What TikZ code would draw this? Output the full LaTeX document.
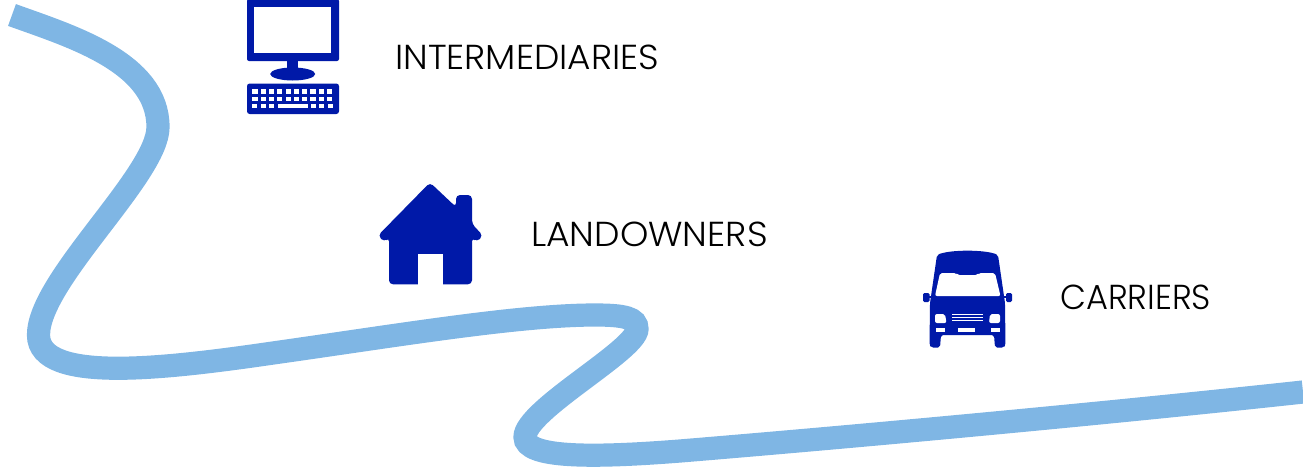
\documentclass[tikz,border=0pt]{standalone}
\usepackage{fontspec}
\setmainfont{Poppins Light}
\definecolor{river}{HTML}{7FB6E4}
\definecolor{icon}{HTML}{0019A8}
\tikzset{
  riverline/.style={draw=river,line width=17.4pt},
  iconfill/.style={fill=icon,draw=none},
  hole/.style={fill=white,draw=none},
  label/.style={anchor=west,inner sep=0pt,text=black,font=\fontsize{26}{28}\selectfont}
}
\begin{document}
\begin{tikzpicture}[x=0.75pt,y=-0.75pt]
\useasboundingbox (0,0) rectangle (1303,468);
\draw[riverline] (12,15) .. controls (70,36) and (158,62) .. (158,127)
  .. controls (158,175) and (38.5,280) .. (38.5,335)
  .. controls (38.5,385) and (170,368) .. (280,352)
  .. controls (400,335) and (520,315) .. (595,315)
  .. controls (625,315) and (637,318) .. (637,329)
  .. controls (637,350) and (525,410) .. (525,437)
  .. controls (525,458) and (590,458) .. (680,451)
  .. controls (850,437) and (1100,414) .. (1303,392);
% computer
\fill[iconfill,rounded corners=1.5] (247,-1) rectangle (339,61);
\fill[hole] (254.3,6.7) rectangle (331,53);
\fill[iconfill] (287,60) rectangle (298,70);
\fill[iconfill] (292.7,74) ellipse (22.5 and 6.5);
\fill[iconfill,rounded corners=2] (247,83.5) rectangle (339,114);
\foreach \x in {252.3,260.6,268.9,277.2,285.5,293.8,302.1,310.4,318.7,327}{
  \fill[hole] (\x,89.3) rectangle +(5.2,5);
  \fill[hole] (\x,96.7) rectangle +(5.2,4.6);
}
\foreach \x in {252.3,260.6,268.9,311,319.3,327.6}{
  \fill[hole] (\x,104) rectangle +(5,4.4);
}
\fill[hole] (277.7,104) rectangle (307.7,108.4);
% house
\fill[iconfill,rounded corners=3] (378,235.5) -- (384,242) -- (389,237.5) -- (389,284.3) -- (472,284.3) -- (472,237.5) -- (477,242) -- (483,235.5) -- (472,224) -- (472,195) -- (456,195) -- (456,207) -- (430,182.5) -- cycle;
\fill[hole] (418,254) rectangle (443,285);
% van
\path[iconfill,rounded corners=1.5] (937,255) .. controls (950,249.5) and (985,249.5) .. (998,255)
  -- (1005,303) -- (1005.5,345) -- (1004,347.5) -- (995,347.5) -- (994,335) -- (941,335) -- (940,347.5) -- (931,347.5) -- (929.5,345) -- (930,303) -- cycle;
\fill[hole,rounded corners=1.5] (940,273) -- (956,273) -- (958,275.2) -- (977,275.2) -- (979,273) -- (995,273) -- (1000.5,296) -- (935,296) -- cycle;
\fill[iconfill,rounded corners=1] (923,293) rectangle (929.5,302);
\fill[iconfill,rounded corners=1] (1006,293) rectangle (1012,302);
\fill[iconfill] (928,296) rectangle (932,298);
\fill[iconfill] (1004,296) rectangle (1007,298);
\fill[hole,rounded corners=1.5] (935,314) -- (945,314) -- (946.5,323) -- (935,323) -- cycle;
\fill[hole,rounded corners=1.5] (990,314) -- (1000,314) -- (1000,323) -- (989,323) -- cycle;
\fill[hole] (952,314) rectangle (983,315.4);
\fill[hole] (952,317) rectangle (983,318.4);
\fill[hole] (952,320) rectangle (983,321.4);
\fill[hole] (936,328) rectangle (944.5,332);
\fill[hole] (958,328) rectangle (975,332);
\fill[hole] (991,328) rectangle (1000,332);
% labels
\node[label,xscale=1.035] (intermediaries) at (395,57) {INTERMEDIARIES};
\node[label,xscale=1.04] (landowners) at (531,234) {LANDOWNERS};
\node[label,xscale=0.97] (carriers) at (1060,297) {CARRIERS};
\end{tikzpicture}
\end{document}
